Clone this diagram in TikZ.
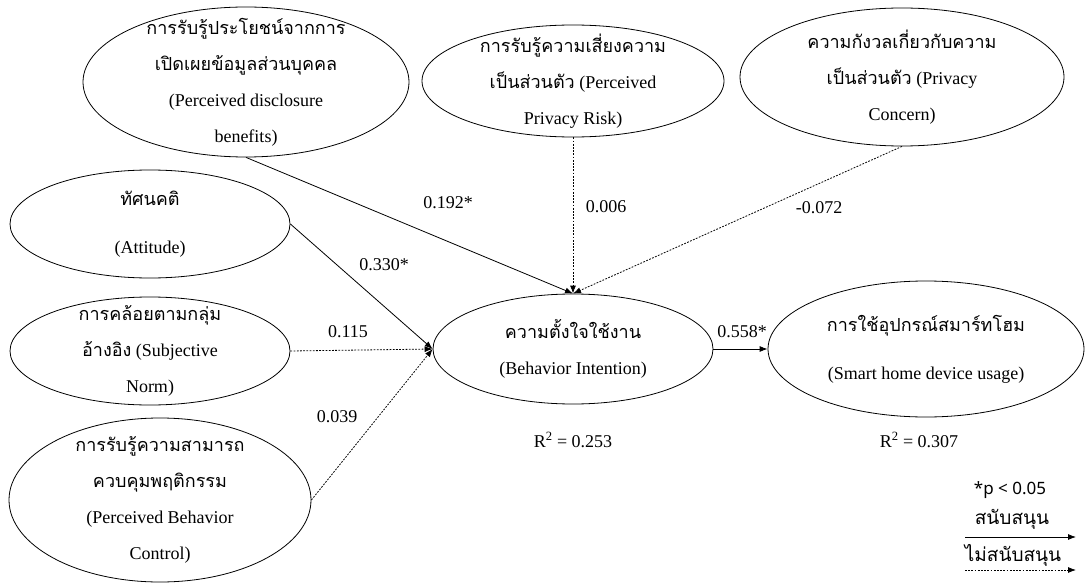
\documentclass[tikz,border=0pt]{standalone}
\usepackage{fontspec}
\setmainfont{Liberation Serif}
\newfontfamily\thaifont[Script=Thai,Scale=1.0]{Loma}
\newfontfamily\legendfont{Noto Sans}
\newcommand{\thai}[1]{{\thaifont #1}}
\usetikzlibrary{shapes.geometric,arrows.meta}
\tikzset{
  latent/.style={draw, ellipse, inner sep=0pt, line width=0.8pt},
  ltext/.style={align=center, font=\fontsize{18}{36}\selectfont},
  coef/.style={font=\fontsize{18}{20}\selectfont},
  legend/.style={font=\legendfont\fontsize{17}{20}\selectfont},
  legthai/.style={font=\thaifont\fontsize{19}{22}\selectfont},
  sig/.style={line width=0.8pt, -{Latex[length=8pt,width=6pt]}},
  nsig/.style={sig, dash pattern=on 1.8pt off 1.4pt},
}
\begin{document}
\begin{tikzpicture}[x=1pt,y=-1pt]
\useasboundingbox (0,0) rectangle (1089,583);

\node[latent, minimum width=326pt, minimum height=150pt, label={[ltext]center:{\thai{การรับรู้ประโยชน์จากการ}\\\thai{เปิดเผยข้อมูลส่วนบุคคล}\\(Perceived disclosure\\benefits)}}] (benefit) at (246,82) {};
\node[latent, minimum width=302pt, minimum height=112pt, label={[ltext]center:{\thai{การรับรู้ความเสี่ยงความ}\\\thai{เป็นส่วนตัว} (Perceived\\Privacy Risk)}}] (risk) at (573,81) {};
\node[latent, minimum width=324pt, minimum height=138pt, label={[ltext]center:{\thai{ความกังวลเกี่ยวกับความ}\\\thai{เป็นส่วนตัว} (Privacy\\Concern)}}] (concern) at (902,77) {};
\node[latent, minimum width=280pt, minimum height=108pt, label={[ltext]center:{\thai{ทัศนคติ}\\[12pt](Attitude)}}] (attitude) at (150,224) {};
\node[latent, minimum width=280pt, minimum height=108pt, label={[ltext]center:{\thai{การคล้อยตามกลุ่ม}\\\thai{อ้างอิง} (Subjective\\Norm)}}] (norm) at (150,351) {};
\node[latent, minimum width=302pt, minimum height=164pt, label={[ltext]center:{\thai{การรับรู้ความสามารถ}\\\thai{ควบคุมพฤติกรรม}\\(Perceived Behavior\\Control)}}] (control) at (160,500) {};
\node[latent, minimum width=280pt, minimum height=110pt, label={[ltext]center:{\thai{ความตั้งใจใช้งาน}\\(Behavior Intention)}}] (intention) at (573,349) {};
\node[latent, minimum width=316pt, minimum height=136pt, label={[ltext]center:{\thai{การใช้อุปกรณ์สมาร์ทโฮม}\\[12pt](Smart home device usage)}}] (usage) at (926,349) {};

\draw[sig] (benefit.south) -- (intention.north);
\draw[sig] (attitude.east) -- (intention.west);
\draw[nsig] (norm.east) -- (intention.west);
\draw[nsig] (control.east) -- (intention.west);
\draw[nsig] (risk.south) -- (intention.north);
\draw[nsig] (concern.south) -- (intention.north);
\draw[sig] (intention.east) -- (usage.west);

\node[coef] (b192) at (448,203) {0.192*};
\node[coef] (a330) at (384,265) {0.330*};
\node[coef] (r006) at (606,207) {0.006};
\node[coef] (c072) at (819,208) {-0.072};
\node[coef] (n115) at (348,332) {0.115};
\node[coef] (p039) at (337,417) {0.039};
\node[coef] (u558) at (742,332) {0.558*};
\node[coef] (r2bi) at (573,440) {R\textsuperscript{2} = 0.253};
\node[coef] (r2use) at (919,440) {R\textsuperscript{2} = 0.307};

\node[legend] (pval) at (1010,490) {*p < 0.05};
\node[legthai] (supp) at (1012,519) {สนับสนุน};
\coordinate (solidA) at (965,537);
\coordinate (solidB) at (1076,537);
\draw[sig] (solidA) -- (solidB);
\node[legthai] (nsupp) at (1013,555) {ไม่สนับสนุน};
\coordinate (dotA) at (965,570);
\coordinate (dotB) at (1076,570);
\draw[nsig] (dotA) -- (dotB);
\end{tikzpicture}
\end{document}
